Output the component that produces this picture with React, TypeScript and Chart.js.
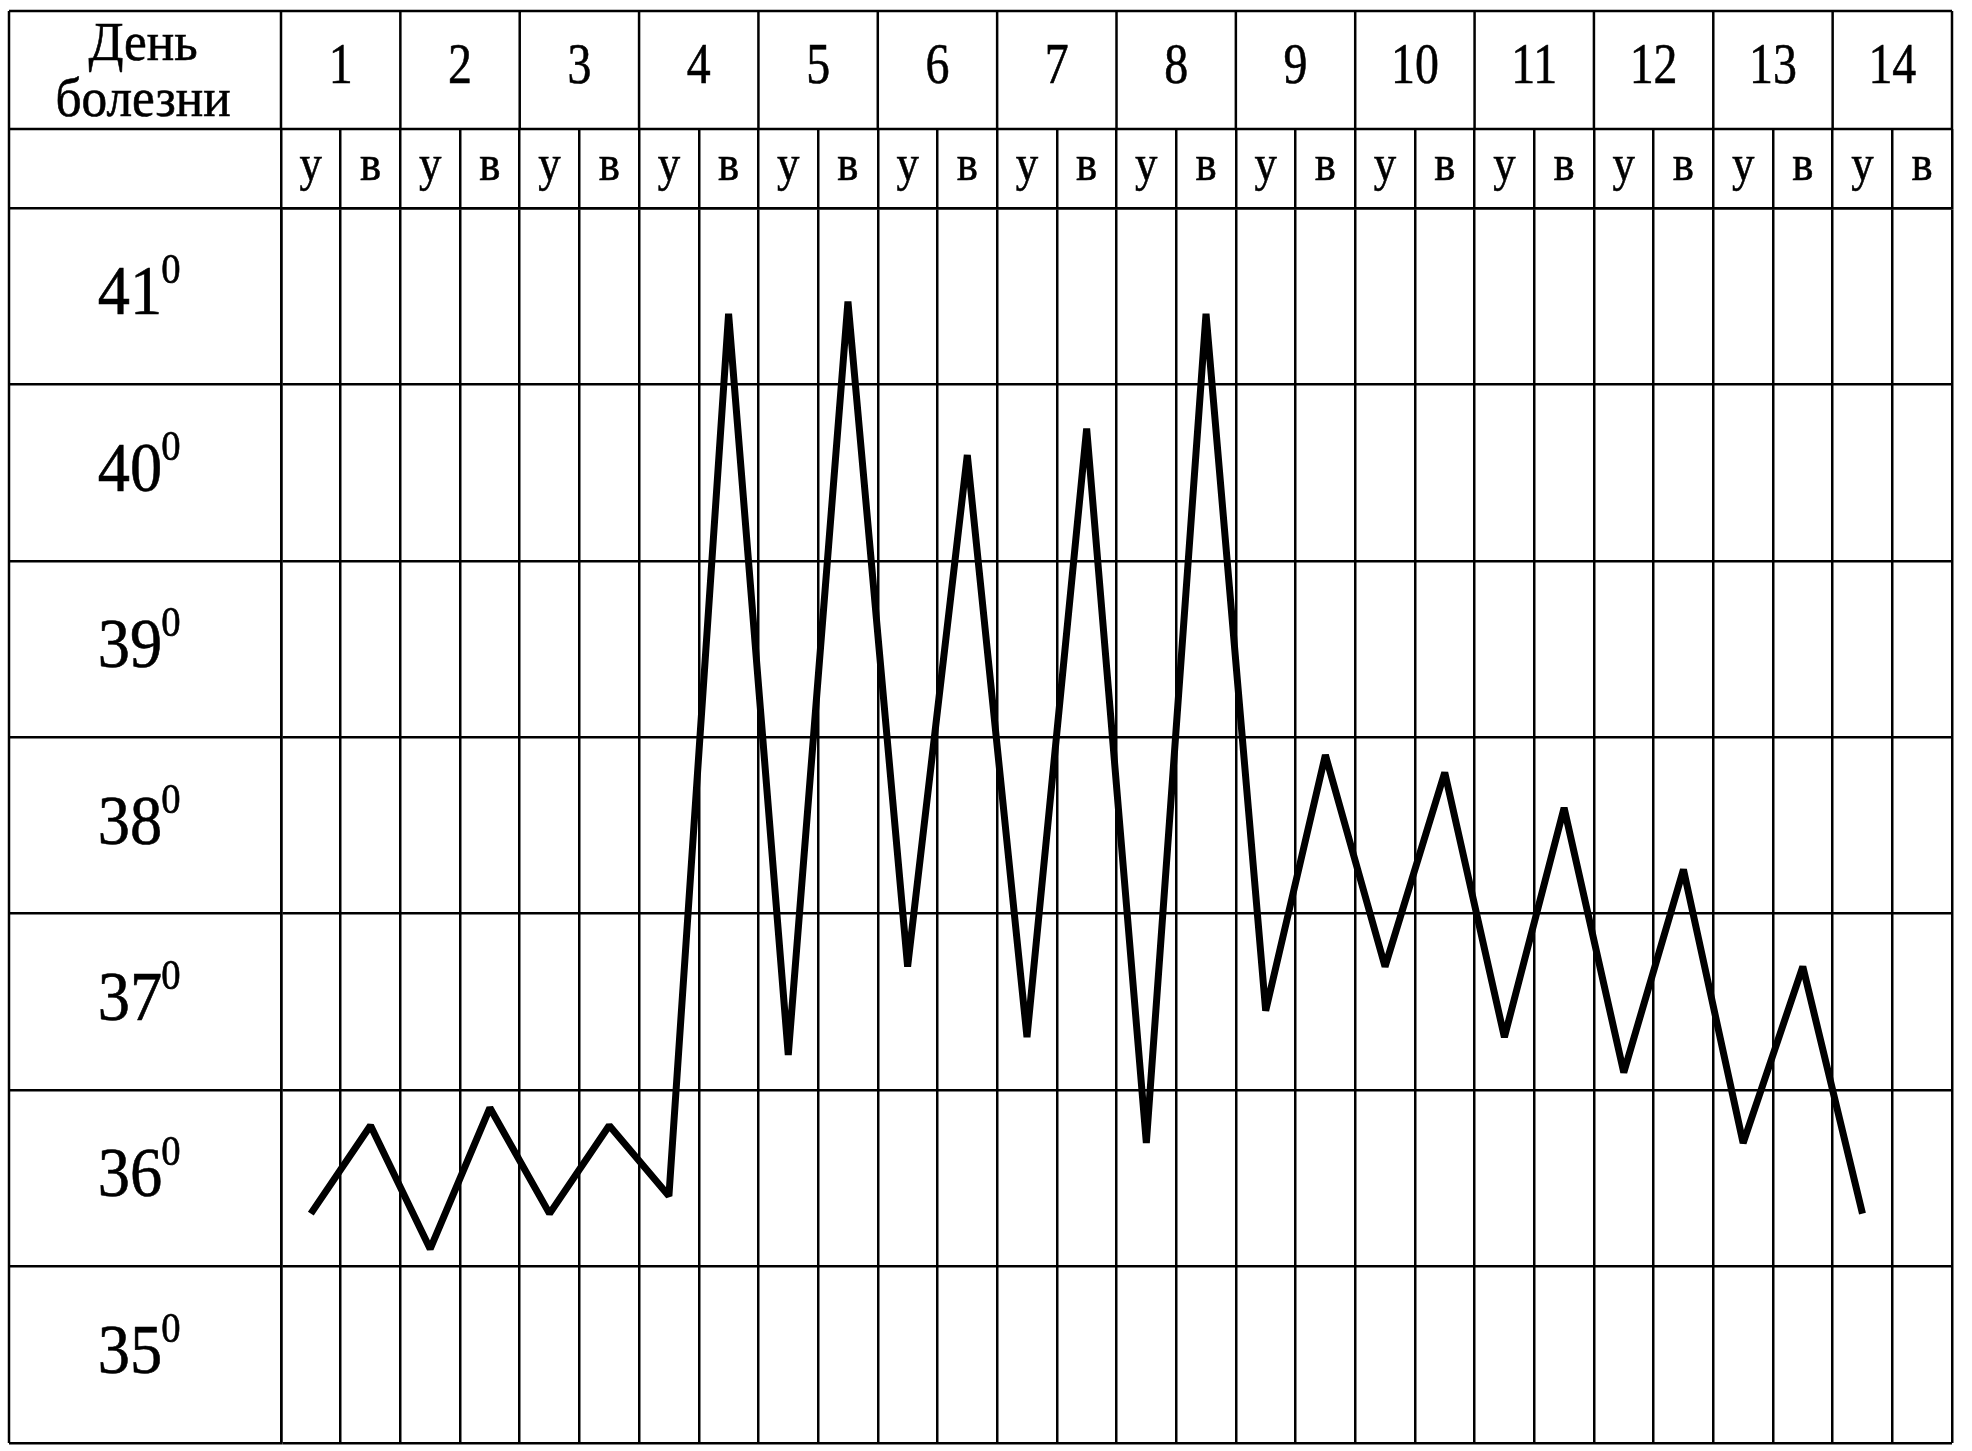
import React, { useEffect, useRef } from 'react';
import { Chart, registerables } from 'chart.js';

Chart.register(...registerables);

// ---- data ----
const days = ['1', '2', '3', '4', '5', '6', '7', '8', '9', '10', '11', '12', '13', '14'];
const halfDayLabels = ['у', 'в'];
const morningTemps = [36.3, 36.1, 36.3, 36.4, 37.2, 37.7, 37.3, 36.7, 37.45, 37.7, 37.3, 37.1, 36.7, 36.3];
const eveningTemps: (number | null)[] = [36.8, 36.9, 36.8, 41.4, 41.47, 40.6, 40.75, 41.4, 38.9, 38.8, 38.6, 38.25, 37.7, null];
const tempRows = [41, 40, 39, 38, 37, 36, 35];
const degreeMark = '0';
const headerTitle = ['День', 'болезни'];

// ---- layout constants ----
const OUTER_LEFT = 9;
const OUTER_TOP = 11;
const OUTER_RIGHT = 1952;
const OUTER_BOTTOM = 1443;
const LABEL_COL_RIGHT = 281;
const ROW1_BOTTOM = 129;
const PLOT_TOP = 208;
const GRID_W = 2.5;
const FONT = "'Liberation Serif', 'Times New Roman', serif";

function drawText(ctx: CanvasRenderingContext2D, text: string, x: number, y: number, size: number, sx: number, align: CanvasTextAlign = 'center') {
  ctx.save();
  ctx.translate(x, y);
  ctx.scale(sx, 1);
  ctx.font = `${size}px ${FONT}`;
  ctx.textAlign = align;
  ctx.textBaseline = 'alphabetic';
  ctx.fillStyle = '#000';
  ctx.strokeStyle = '#000';
  ctx.lineWidth = 0.6;
  ctx.fillText(text, 0, 0);
  ctx.strokeText(text, 0, 0);
  ctx.restore();
}

const tablePlugin = {
  id: 'tableFrame',
  afterDraw(chart: any) {
    const { ctx, chartArea, scales } = chart;
    const xs = scales.x;
    const ys = scales.y;
    const left = ys.left;
    const top = xs.top;
    const right = chartArea.right;
    const row1Bottom = ROW1_BOTTOM;
    ctx.save();
    ctx.strokeStyle = '#000';
    ctx.lineWidth = GRID_W;
    ctx.beginPath();
    // outer top & left
    ctx.moveTo(left, top); ctx.lineTo(right, top);
    ctx.moveTo(left, top); ctx.lineTo(left, chartArea.bottom);
    // row separator in header
    ctx.moveTo(left, row1Bottom); ctx.lineTo(right, row1Bottom);
    // label column & right border in row 1
    ctx.moveTo(chartArea.left, top); ctx.lineTo(chartArea.left, row1Bottom);
    ctx.moveTo(right, top); ctx.lineTo(right, row1Bottom);
    // day boundaries in row 1
    for (let k = 1; k < days.length; k++) {
      const bx = (xs.getPixelForValue(2 * k - 1) + xs.getPixelForValue(2 * k)) / 2;
      ctx.moveTo(bx, top); ctx.lineTo(bx, row1Bottom);
    }
    ctx.stroke();
    ctx.restore();

    // header title
    const labelCx = (left + chartArea.left) / 2;
    drawText(ctx, headerTitle[0], labelCx - 2, 60, 54, 0.95);
    drawText(ctx, headerTitle[1], labelCx - 2, 116, 54, 0.95);

    // day numbers
    days.forEach((d, i) => {
      const cx = (xs.getPixelForValue(2 * i) + xs.getPixelForValue(2 * i + 1)) / 2;
      drawText(ctx, d, cx, 83, 57, 0.84);
    });
    // half-day labels
    for (let i = 0; i < days.length * 2; i++) {
      const cx = xs.getPixelForValue(i);
      drawText(ctx, halfDayLabels[i % 2], cx, 180, 51, 0.88);
    }
    // temperature rows
    tempRows.forEach((t) => {
      const cy = ys.getPixelForValue(t + 0.5);
      const main = String(t);
      const mainCx = 130;
      const size = 70;
      ctx.save();
      ctx.font = `${size}px ${FONT}`;
      const w = ctx.measureText(main).width * 0.92;
      ctx.restore();
      drawText(ctx, main, mainCx, cy + 18, size, 0.92);
      drawText(ctx, degreeMark, mainCx + w / 2 - 1, cy + 18 - 31, 42, 0.92, 'left');
    });
  },
};

export default function App() {
  const ref = useRef<HTMLCanvasElement | null>(null);
  useEffect(() => {
    document.body.style.margin = '0';
    const canvas = ref.current;
    if (!canvas) return;
    const labels: string[] = [];
    const temps: (number | null)[] = [];
    days.forEach((_, i) => {
      labels.push(halfDayLabels[0]);
      temps.push(morningTemps[i]);
      labels.push(halfDayLabels[1]);
      temps.push(eveningTemps[i]);
    });
    const chart = new Chart(canvas, {
      type: 'line',
      data: {
        labels,
        datasets: [
          {
            data: temps,
            borderColor: '#000',
            backgroundColor: '#000',
            borderWidth: 7,
            borderJoinStyle: 'bevel',
            pointRadius: 0,
            tension: 0,
            fill: false,
          },
        ],
      },
      plugins: [tablePlugin],
      options: {
        responsive: false,
        maintainAspectRatio: false,
        animation: false,
        devicePixelRatio: 1,
        layout: {
          padding: {
            left: OUTER_LEFT,
            top: OUTER_TOP,
            right: 1972 - OUTER_RIGHT,
            bottom: 1451 - OUTER_BOTTOM,
          },
        },
        plugins: {
          legend: { display: false },
          tooltip: { enabled: false },
        },
        scales: {
          x: {
            type: 'category',
            position: 'top',
            offset: true,
            grid: {
              offset: true,
              color: '#000',
              lineWidth: GRID_W,
              drawTicks: true,
              tickLength: PLOT_TOP - ROW1_BOTTOM,
            },
            border: { display: true, color: '#000', width: GRID_W },
            ticks: { display: false },
            afterFit: (scale: any) => {
              scale.height = PLOT_TOP - OUTER_TOP;
            },
          },
          y: {
            type: 'linear',
            position: 'left',
            min: 35,
            max: 42,
            grid: {
              color: '#000',
              lineWidth: GRID_W,
              drawTicks: true,
              tickLength: LABEL_COL_RIGHT - OUTER_LEFT,
            },
            border: { display: true, color: '#000', width: GRID_W },
            ticks: { display: false, stepSize: 1 },
            afterFit: (scale: any) => {
              scale.width = LABEL_COL_RIGHT - OUTER_LEFT;
            },
          },
        },
      },
    });
    return () => chart.destroy();
  }, []);
  return <canvas ref={ref} width={1972} height={1451} style={{ display: 'block', width: 1972, height: 1451 }} />;
}
